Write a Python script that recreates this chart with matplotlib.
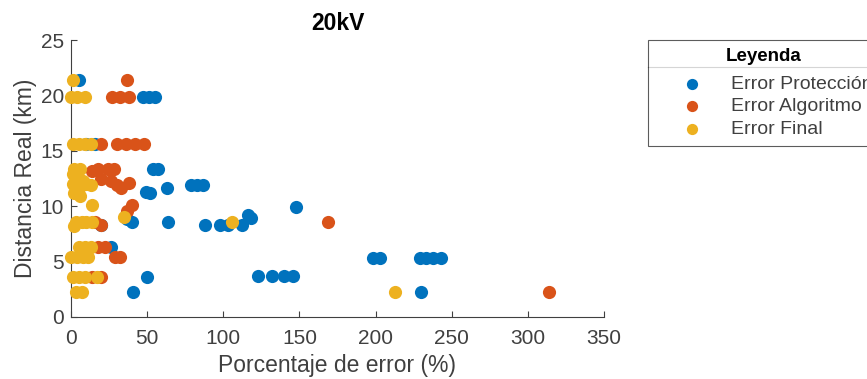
import matplotlib.pyplot as plt
from matplotlib.lines import Line2D

plt.rcParams['font.family'] = ['Liberation Sans', 'DejaVu Sans']

# Error Protección
prot_x = [5, 47, 51, 55, 10, 16, 54, 57, 49, 52, 63, 79, 83, 87, 37, 40, 64, 88, 98,
          103, 112, 116, 118, 148, 20, 26, 198, 203, 229, 233, 238, 243, 123, 132,
          140, 146, 50, 41, 230]
prot_y = [21.4, 19.9, 19.9, 19.9, 15.6, 15.6, 13.4, 13.4, 11.3, 11.2, 11.6, 11.9, 11.9,
          11.9, 8.8, 8.6, 8.6, 8.3, 8.3, 8.3, 8.3, 9.2, 8.9, 9.9, 8.3, 6.3, 5.3, 5.3,
          5.3, 5.3, 5.3, 5.3, 3.7, 3.7, 3.7, 3.7, 3.6, 2.3, 2.3]

# Error Algoritmo
alg_x = [37, 27, 32, 38, 20, 30, 36, 42, 48, 14, 18, 24, 28, 20, 26, 30, 33, 38,
         40, 37, 16, 20, 18, 22, 29, 32, 14, 20, 169, 314]
alg_y = [21.4, 19.9, 19.9, 19.9, 15.6, 15.6, 15.6, 15.6, 15.6, 13.2, 13.4, 13.4, 13.4,
         12.5, 12.3, 11.9, 11.6, 12.1, 10.1, 9.6, 8.6, 8.3, 6.3, 6.3, 5.4, 5.4, 3.6,
         3.6, 8.6, 2.3]

# Error Final
fin_x = [1, 0, 4, 9, 1, 5, 9, 13, 2, 6, 1, 3, 8, 1, 5, 10, 13, 2, 6, 14, 35, 3, 7,
         10, 14, 2, 106, 5, 9, 13, 0, 4, 8, 11, 1, 5, 9, 17, 3, 7, 213]
fin_y = [21.4, 19.9, 19.9, 19.9, 15.6, 15.6, 15.6, 15.6, 13.4, 13.4, 12.9, 12.5, 12.3,
         12.0, 11.6, 12.0, 11.9, 11.2, 10.9, 10.1, 9.0, 8.6, 8.6, 8.6, 8.6, 8.2, 8.6,
         6.3, 6.3, 6.3, 5.4, 5.4, 5.4, 5.4, 3.6, 3.6, 3.6, 3.6, 2.3, 2.3, 2.3]

x_ticks = [0, 50, 100, 150, 200, 250, 300, 350]
y_ticks = [0, 5, 10, 15, 20, 25]

azul = '#0072BD'
naranja = '#D95319'
amarillo = '#EDB120'
gris = '#404040'

fig = plt.figure(figsize=(8.67, 3.79), dpi=100)
ax = fig.add_axes([71 / 867, 62 / 379, 533 / 867, 277 / 379])

s = 90
ax.scatter(prot_x, prot_y, s=s, color=azul, linewidths=0, clip_on=False, label='Error Protección', zorder=3)
ax.scatter(alg_x, alg_y, s=s, color=naranja, linewidths=0, clip_on=False, label='Error Algoritmo', zorder=4)
ax.scatter(fin_x, fin_y, s=s, color=amarillo, linewidths=0, clip_on=False, label='Error Final', zorder=5)

ax.set_xlim(0, 350)
ax.set_ylim(0, 25)
ax.set_xticks(x_ticks)
ax.set_yticks(y_ticks)
for side in ['top', 'right']:
    ax.spines[side].set_visible(False)
for side in ['left', 'bottom']:
    ax.spines[side].set_color(gris)
    ax.spines[side].set_linewidth(0.8)
ax.tick_params(direction='in', length=4, width=0.8, colors=gris, labelsize=15, pad=5)
ax.tick_params(axis='x', pad=9)

ax.set_xlabel('Porcentaje de error (%)', fontsize=16.5, color=gris, labelpad=4)
ax.set_ylabel('Distancia Real (km)', fontsize=16.5, color=gris, labelpad=3)
ax.set_title('20kV', fontsize=16.5, fontweight='bold', pad=7)

# leyenda (el borde derecho queda fuera de la figura, como en el original)
leg = fig.legend(loc='upper left', bbox_to_anchor=(648 / 867, 1 - 40 / 379),
                 title='Leyenda', title_fontproperties={'weight': 'bold', 'size': 13.5},
                 fontsize=14, frameon=True, fancybox=False, edgecolor='#333333',
                 borderaxespad=0, borderpad=0.4, labelspacing=0.26, handletextpad=0.1,
                 handlelength=3.75, markerscale=0.85)
leg.get_frame().set_linewidth(0.8)
leg._legend_box.sep = 7.5  # espacio extra bajo el título
for t in leg.get_texts():
    t.set_color(gris)
fig.add_artist(Line2D([648 / 867, 1], [1 - 67 / 379, 1 - 67 / 379],
                      transform=fig.transFigure, color='#333333', lw=0.8))

fig.savefig('out.png', dpi=100)
